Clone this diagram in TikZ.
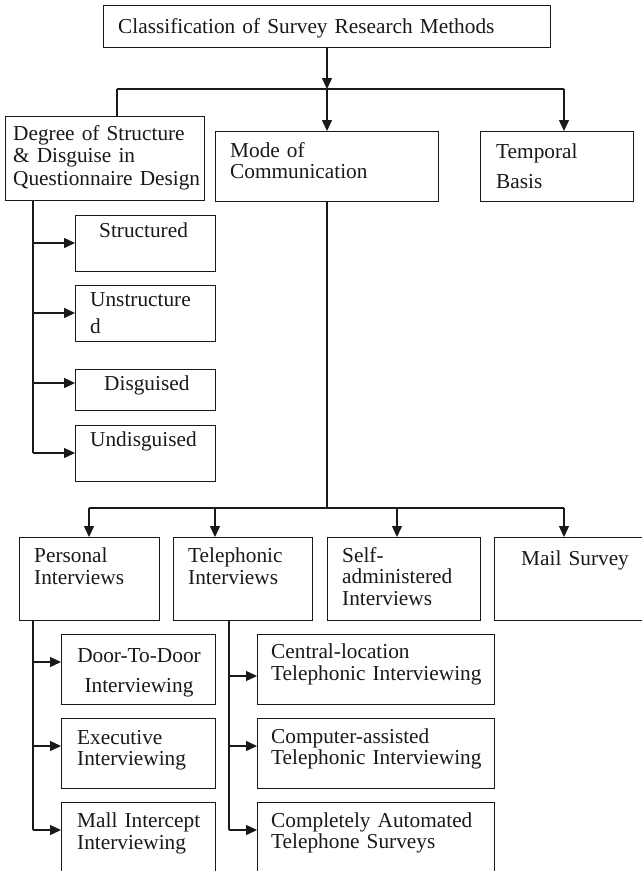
\documentclass[tikz,border=0pt]{standalone}
\usepackage{fontspec}
\setmainfont{Liberation Serif}
\usetikzlibrary{arrows.meta,calc}
\definecolor{ink}{RGB}{25,25,25}
\newcommand\fsz[1]{\fontsize{21.3}{#1}\selectfont}
\begin{document}
\begin{tikzpicture}[x=1pt,y=-1pt,
  box/.style={draw=ink, line width=1.4pt, inner sep=0pt, anchor=north west},
  txt/.style={anchor=base west, inner sep=0pt, align=left, text width=300pt, text=ink, font=\fsz{#1}},
  txt/.default=22pt,
  conn/.style={draw=ink, line width=1.4pt},
  arr/.style={conn, -{Triangle[length=11pt,width=10pt]}}]
\useasboundingbox (0,0) rectangle (642,871);
\fill[white] (0,0) rectangle (642,871);
\clip (0,0) rectangle (642,871);

% boxes
\node[box, minimum width=447pt, minimum height=42pt] (top) at (103,5) {};
\node[box, minimum width=199pt, minimum height=84pt] (deg) at (5,116) {};
\node[box, minimum width=223pt, minimum height=70pt] (mode) at (215,131) {};
\node[box, minimum width=153pt, minimum height=70pt] (temp) at (480,131) {};

\node[box, minimum width=140pt, minimum height=56pt] (str) at (75,215) {};
\node[box, minimum width=140pt, minimum height=56pt] (unstr) at (75,285) {};
\node[box, minimum width=140pt, minimum height=41pt] (disg) at (75,369) {};
\node[box, minimum width=140pt, minimum height=56pt] (undisg) at (75,425) {};

\node[box, minimum width=140pt, minimum height=83pt] (pers) at (19,537) {};
\node[box, minimum width=139pt, minimum height=83pt] (tel) at (173,537) {};
\node[box, minimum width=153pt, minimum height=83pt] (self) at (327,537) {};
\node[box, minimum width=170pt, minimum height=83pt] (mail) at (494,537) {};

\node[box, minimum width=154pt, minimum height=70pt] (door) at (61,634) {};
\node[box, minimum width=154pt, minimum height=70pt] (exec) at (61,718) {};
\node[box, minimum width=154pt, minimum height=90pt] (mall) at (61,802) {};

\node[box, minimum width=237pt, minimum height=70pt] (cent) at (257,634) {};
\node[box, minimum width=237pt, minimum height=70pt] (comp) at (257,718) {};
\node[box, minimum width=237pt, minimum height=90pt] (auto) at (257,802) {};

% texts
\node[txt, text width=430pt] (topT) at (118,33) {Classification of Survey Research Methods};
\node[txt=22.5pt] (degT) at (13,140) {Degree of Structure\\\& Disguise in\\Questionnaire Design};
\node[txt=21pt] (modeT) at (230,157) {Mode of\\Communication};
\node[txt=30pt] (tempT) at (496,158) {Temporal\\Basis};
\node[txt] (strT) at (99,237) {Structured};
\node[txt=27pt] (unstrT) at (90,306) {Unstructure\\d};
\node[txt] (disgT) at (104,390) {Disguised};
\node[txt] (undisgT) at (90,446) {Undisguised};
\node[txt] (persT) at (34,562) {Personal\\Interviews};
\node[txt] (telT) at (188,562) {Telephonic\\Interviews};
\node[txt=21.5pt] (selfT) at (342,562) {Self-\\administered\\Interviews};
\node[txt] (mailT) at (521,565) {Mail Survey};
\node[txt=30pt, anchor=base, align=center, text width=150pt] (doorT) at (139,662) {Door-To-Door\\Interviewing};
\node[txt=21pt] (execT) at (77,744) {Executive\\Interviewing};
\node[txt] (mallT) at (77,827) {Mall Intercept\\Interviewing};
\node[txt] (centT) at (271,658) {Central-location\\Telephonic Interviewing};
\node[txt=21pt] (compT) at (271,743) {Computer-assisted\\Telephonic Interviewing};
\node[txt=21pt] (autoT) at (271,827) {Completely Automated\\Telephone Surveys};

% level 1 connectors
\coordinate (j1) at (327,89);
\coordinate (jL) at (117,89);
\coordinate (jR) at (564,89);
\draw[arr] (top.south -| j1) -- (j1);
\draw[conn] (jL) -- (jR);
\draw[conn] (jL) -- (jL |- deg.north);
\draw[arr] (j1) -- (j1 |- mode.north);
\draw[arr] (jR) -- (jR |- temp.north);

% degree branch
\coordinate (dv) at (33,453);
\draw[conn] (deg.south -| dv) -- (dv);
\path (str.north west) ++(0,28) coordinate (strIn);
\path (unstr.north west) ++(0,28) coordinate (unstrIn);
\path (disg.north west) ++(0,14) coordinate (disgIn);
\path (undisg.north west) ++(0,28) coordinate (undisgIn);
\draw[arr] (strIn -| dv) -- (strIn);
\draw[arr] (unstrIn -| dv) -- (unstrIn);
\draw[arr] (disgIn -| dv) -- (disgIn);
\draw[arr] (undisgIn -| dv) -- (undisgIn);

% mode branch
\coordinate (mv) at (327,508);
\coordinate (hL) at (89,508);
\coordinate (hT) at (215,508);
\coordinate (hS) at (397,508);
\coordinate (hR) at (564,508);
\draw[conn] (mode.south -| mv) -- (mv);
\draw[conn] (hL) -- (hR);
\draw[arr] (hL) -- (hL |- pers.north);
\draw[arr] (hT) -- (hT |- tel.north);
\draw[arr] (hS) -- (hS |- self.north);
\draw[arr] (hR) -- (hR |- mail.north);

% personal branch
\coordinate (pv) at (33,830);
\draw[conn] (pers.south -| pv) -- (pv);
\path (door.north west) ++(0,28) coordinate (doorIn);
\path (exec.north west) ++(0,28) coordinate (execIn);
\path (mall.north west) ++(0,28) coordinate (mallIn);
\draw[arr] (doorIn -| pv) -- (doorIn);
\draw[arr] (execIn -| pv) -- (execIn);
\draw[arr] (mallIn -| pv) -- (mallIn);

% telephonic branch
\coordinate (tv) at (229,830);
\draw[conn] (tel.south -| tv) -- (tv);
\path (cent.north west) ++(0,42) coordinate (centIn);
\path (comp.north west) ++(0,28) coordinate (compIn);
\path (auto.north west) ++(0,28) coordinate (autoIn);
\draw[arr] (centIn -| tv) -- (centIn);
\draw[arr] (compIn -| tv) -- (compIn);
\draw[arr] (autoIn -| tv) -- (autoIn);
\end{tikzpicture}
\end{document}
